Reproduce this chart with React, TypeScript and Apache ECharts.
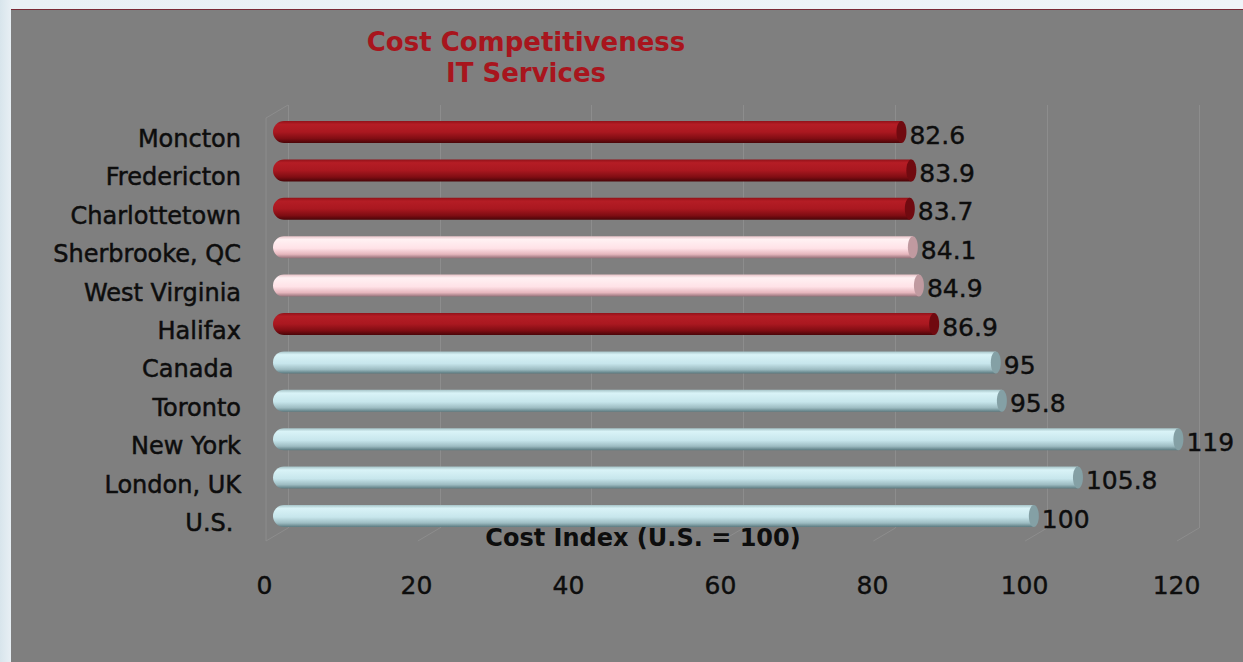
import React, { useEffect, useRef } from "react";
import * as echarts from "echarts";

// ---- data ----
const categories = [
  "Moncton",
  "Fredericton",
  "Charlottetown",
  "Sherbrooke, QC",
  "West Virginia",
  "Halifax",
  "Canada ",
  "Toronto",
  "New York",
  "London, UK",
  "U.S. ",
];
const values = [82.6, 83.9, 83.7, 84.1, 84.9, 86.9, 95, 95.8, 119, 105.8, 100];
const groups = ["red", "red", "red", "pink", "pink", "red", "blue", "blue", "blue", "blue", "blue"];
const tickValues = [0, 20, 40, 60, 80, 100, 120];
const titleLines = ["Cost Competitiveness", "IT Services"];
const axisTitle = "Cost Index (U.S. = 100)";

// ---- styles ----
const FONT = '"DejaVu Sans", "Liberation Sans", Arial, sans-serif';
const palettes: Record<string, { stops: { offset: number; color: string }[]; cap: string }> = {
  red: {
    stops: [
      { offset: 0, color: "#921219" },
      { offset: 0.15, color: "#b51d25" },
      { offset: 0.5, color: "#aa1820" },
      { offset: 0.8, color: "#800d13" },
      { offset: 1, color: "#4a0508" },
    ],
    cap: "#700a10",
  },
  pink: {
    stops: [
      { offset: 0, color: "#e9c4c9" },
      { offset: 0.15, color: "#fff1f3" },
      { offset: 0.55, color: "#ffe2e7" },
      { offset: 0.82, color: "#e6b6bd" },
      { offset: 1, color: "#957078" },
    ],
    cap: "#c09aa0",
  },
  blue: {
    stops: [
      { offset: 0, color: "#a6c4c8" },
      { offset: 0.15, color: "#d9f3f7" },
      { offset: 0.55, color: "#c7e6ec" },
      { offset: 0.82, color: "#9dbcc2" },
      { offset: 1, color: "#5b7a80" },
    ],
    cap: "#84a0a5",
  },
};

const X_MIN = tickValues[0];
const X_MAX = tickValues[tickValues.length - 1];
const X_STEP = tickValues[1] - tickValues[0];

export default function App() {
  const ref = useRef<HTMLDivElement>(null);

  useEffect(() => {
    if (!ref.current) return;
    const chart = echarts.init(ref.current, undefined, { renderer: "svg" });

    const barH = 22;
    const renderItem = (_params: any, api: any) => {
      const v = api.value(0);
      const i = api.value(1);
      const p0 = api.coord([0, i]);
      const p1 = api.coord([v, i]);
      const pal = palettes[groups[i]];
      return {
        type: "group",
        children: [
          {
            type: "rect",
            shape: { x: p0[0], y: p0[1] - barH / 2, width: p1[0] - p0[0], height: barH, r: [11, 0, 0, 11] },
            style: { fill: new echarts.graphic.LinearGradient(0, 0, 0, 1, pal.stops) },
          },
          {
            type: "ellipse",
            shape: { cx: p1[0], cy: p0[1], rx: 5, ry: barH / 2 },
            style: { fill: pal.cap },
          },
          {
            type: "text",
            style: {
              text: String(v),
              x: p1[0] + 8,
              y: p0[1] + 3,
              fill: "#0d0d0d",
              font: `25px ${FONT}`,
              stroke: "#0d0d0d",
              lineWidth: 0.4,
              align: "left",
              verticalAlign: "middle",
              textAlign: "left",
              textVerticalAlign: "middle",
            },
          },
        ],
      };
    };

    const gridTop = 112.8;
    const gridH = 422.4;
    const labelShift = 7;

    const option: any = {
      animation: false,
      backgroundColor: "transparent",
      grid: [
        { left: 273, top: gridTop, width: 913, height: gridH },
        { left: 288, top: 105, width: 911, height: 423 },
        { left: 264.5, top: 560, width: 912, height: 10 },
        { left: 273, top: gridTop + labelShift, width: 913, height: gridH },
      ],
      xAxis: [
        { gridIndex: 0, type: "value", min: X_MIN, max: X_MAX, interval: X_STEP, show: false },
        {
          gridIndex: 1,
          type: "value",
          min: X_MIN,
          max: X_MAX,
          interval: X_STEP,
          axisLine: { show: false },
          axisTick: { show: false },
          axisLabel: { show: false },
          splitLine: { show: true, lineStyle: { color: "#8d8d8d", width: 1 } },
        },
        {
          gridIndex: 2,
          type: "value",
          min: X_MIN,
          max: X_MAX,
          interval: X_STEP,
          axisLine: { show: false },
          axisTick: { show: false },
          splitLine: { show: false },
          axisLabel: {
            show: true,
            color: "#0d0d0d",
            fontSize: 25,
            fontFamily: FONT,
            margin: 3,
            textBorderColor: "#0d0d0d",
            textBorderWidth: 0.4,
          },
        },
        { gridIndex: 3, type: "value", min: X_MIN, max: X_MAX, interval: X_STEP, show: false },
      ],
      yAxis: [
        {
          gridIndex: 0,
          type: "category",
          data: categories,
          inverse: true,
          show: false,
        },
        { gridIndex: 1, type: "value", show: false, min: 0, max: 1 },
        { gridIndex: 2, type: "value", show: false, min: 0, max: 1 },
        {
          gridIndex: 3,
          type: "category",
          data: categories,
          inverse: true,
          axisLine: { show: false },
          axisTick: { show: false },
          splitLine: { show: false },
          axisLabel: {
            color: "#0d0d0d",
            fontSize: 24,
            fontFamily: FONT,
            margin: 32,
            textBorderColor: "#0d0d0d",
            textBorderWidth: 0.5,
          },
        },
      ],
      series: [
        {
          type: "custom",
          xAxisIndex: 0,
          yAxisIndex: 0,
          renderItem,
          encode: { x: 0, y: 1 },
          data: values.map((v, i) => [v, i]),
        },
      ],
    };
    chart.setOption(option);

    // 3D frame (side wall and floor depth lines) derived from the back wall axis
    const dx = 22;
    const dy = 13;
    const wallTop = 105;
    const wallBottom = 528;
    const lineStyle = { stroke: "#8d8d8d", lineWidth: 1 };
    const frame: any[] = [];
    const x0 = chart.convertToPixel({ xAxisIndex: 1 }, X_MIN) as number;
    frame.push({ type: "line", shape: { x1: x0 - dx, y1: wallTop + dy, x2: x0 - dx, y2: wallBottom + dy }, style: lineStyle, silent: true });
    frame.push({ type: "line", shape: { x1: x0, y1: wallTop, x2: x0 - dx, y2: wallTop + dy }, style: lineStyle, silent: true });
    tickValues.forEach((t) => {
      const x = chart.convertToPixel({ xAxisIndex: 1 }, t) as number;
      frame.push({ type: "line", shape: { x1: x, y1: wallBottom, x2: x - dx, y2: wallBottom + dy }, style: lineStyle, silent: true });
    });

    chart.setOption({
      graphic: [
        ...frame,
        {
          type: "text",
          x: 526,
          y: 26,
          style: {
            text: titleLines.join("\n"),
            fill: "#a8151d",
            font: `bold 26px ${FONT}`,
            lineHeight: 31,
            align: "center",
            verticalAlign: "top",
            textAlign: "center",
            textVerticalAlign: "top",
          },
        },
        {
          type: "text",
          x: 643,
          y: 538,
          style: {
            text: axisTitle,
            fill: "#0d0d0d",
            font: `bold 24px ${FONT}`,
            align: "center",
            verticalAlign: "middle",
            textAlign: "center",
            textVerticalAlign: "middle",
          },
        },
      ],
    });

    return () => chart.dispose();
  }, []);

  return (
    <div
      style={{
        position: "absolute",
        left: 0,
        top: 0,
        width: 1243,
        height: 662,
        overflow: "hidden",
        background: "linear-gradient(to right, #d8e5ec 0px, #e9f0f5 12px, #eff4f8 100%)",
      }}
    >
      <div
        style={{
          position: "absolute",
          left: 11,
          top: 9,
          width: 1232,
          height: 653,
          background: "#7f7f7f",
          borderTop: "1px solid #7a2a36",
          boxSizing: "border-box",
        }}
      />
      <div ref={ref} style={{ position: "absolute", left: 0, top: 0, width: 1243, height: 662 }} />
    </div>
  );
}
